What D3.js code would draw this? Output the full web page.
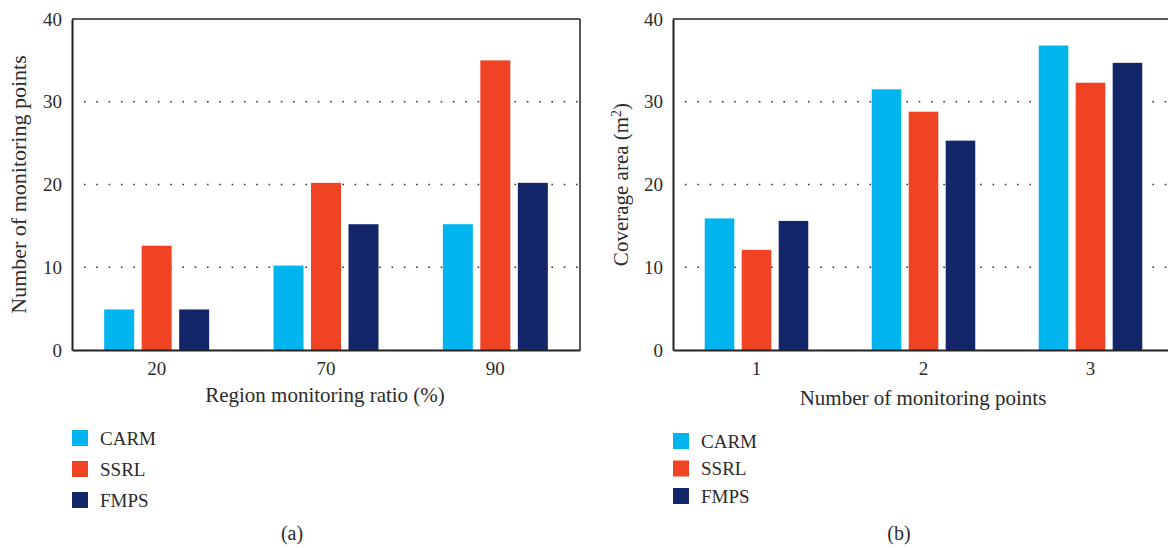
<!DOCTYPE html>
<html lang="en">
<head>
    <meta charset="UTF-8">
    <script src="https://d3js.org/d3.v7.min.js"></script>
    <style>
        body { margin: 0; background: #fff; }
        svg text { font-family: "Liberation Serif", "DejaVu Serif", serif; fill: #2b2b2b; }
        .tick text { font-size: 19px; }
        .title { font-size: 21px; }
        .ytitle { font-size: 22px; }
        .legend { font-size: 19px; }
        .caption { font-size: 20px; }
    </style>
</head>
<body>
    <svg id="chart"></svg>

    <script>
        // series + colours
        const seriesNames = ["CARM", "SSRL", "FMPS"];
        const seriesColors = ["#00b4ee", "#ef4324", "#14266a"];

        // panel (a)
        const ratioCats = ["20", "70", "90"];
        const carmA = [4.9, 10.2, 15.2];
        const ssrlA = [12.6, 20.2, 35];
        const fmpsA = [4.9, 15.2, 20.2];

        // panel (b)
        const pointCats = ["1", "2", "3"];
        const carmB = [15.9, 31.5, 36.8];
        const ssrlB = [12.1, 28.8, 32.3];
        const fmpsB = [15.6, 25.3, 34.7];

        const yTicks = [0, 10, 20, 30, 40];
        const gridTicks = [10, 20, 30];

        const W = 1168, H = 548;
        const svg = d3.select("#chart").attr("width", W).attr("height", H);

        function drawPanel(opt) {
            const g = svg.append("g");
            const top = 19, bottom = 350;

            const x0 = d3.scaleBand()
                .domain(opt.cats)
                .range([opt.left, opt.right])
                .paddingInner(0.38)
                .paddingOuter(0.19);

            const x1 = d3.scaleBand()
                .domain(seriesNames)
                .range([0, x0.bandwidth()])
                .paddingInner(0.2);

            const y = d3.scaleLinear().domain([0, 40]).range([bottom, top]);

            const color = d3.scaleOrdinal().domain(seriesNames).range(seriesColors);

            // dotted grid
            g.selectAll(".grid")
                .data(gridTicks)
                .enter()
                .append("line")
                .attr("x1", opt.left + 12)
                .attr("x2", opt.right)
                .attr("y1", d => y(d))
                .attr("y2", d => y(d))
                .attr("stroke", "#333")
                .attr("stroke-width", 1.6)
                .attr("stroke-dasharray", "1.6,10.7");

            const rows = opt.cats.map((c, i) => ({
                cat: c,
                values: seriesNames.map((s, j) => ({ key: s, value: opt.values[j][i] }))
            }));

            g.selectAll(".group")
                .data(rows)
                .enter()
                .append("g")
                .attr("transform", d => `translate(${x0(d.cat)},0)`)
                .selectAll("rect")
                .data(d => d.values)
                .enter()
                .append("rect")
                .attr("x", d => x1(d.key))
                .attr("y", d => y(d.value))
                .attr("width", x1.bandwidth())
                .attr("height", d => y(0) - y(d.value))
                .attr("fill", d => color(d.key));

            // frame
            g.append("line").attr("x1", opt.left).attr("x2", opt.right)
                .attr("y1", top).attr("y2", top)
                .attr("stroke", "#222").attr("stroke-width", 1.5);
            g.append("line").attr("x1", opt.right).attr("x2", opt.right)
                .attr("y1", top).attr("y2", bottom)
                .attr("stroke", "#222").attr("stroke-width", 1.5);

            const xAxis = g.append("g")
                .attr("transform", `translate(0,${bottom})`)
                .call(d3.axisBottom(x0).tickSize(0).tickPadding(12));
            xAxis.select(".domain").attr("stroke", "#222").attr("stroke-width", 2);

            const yAxis = g.append("g")
                .attr("transform", `translate(${opt.left},0)`)
                .call(d3.axisLeft(y).tickValues(yTicks).tickSize(0).tickPadding(10));
            yAxis.select(".domain").attr("stroke", "#222").attr("stroke-width", 2);

            g.selectAll(".tick text").attr("fill", "#2b2b2b");

            g.append("text")
                .attr("class", "title")
                .attr("x", (opt.left + opt.xTitleCenter))
                .attr("y", opt.xTitleY)
                .attr("text-anchor", "middle")
                .text(opt.xTitle);

            const yt = g.append("text")
                .attr("class", opt.yTitleClass)
                .attr("transform", `translate(${opt.yTitleX},${(top + bottom) / 2}) rotate(-90)`)
                .attr("text-anchor", "middle");
            opt.yTitle(yt);

            const leg = g.selectAll(".legend")
                .data(seriesNames)
                .enter()
                .append("g")
                .attr("transform", (d, i) => `translate(${opt.left},${opt.legY + i * opt.legStep})`);
            leg.append("rect")
                .attr("x", 0).attr("y", -8)
                .attr("width", 16).attr("height", 16)
                .attr("fill", d => color(d));
            leg.append("text")
                .attr("class", "legend")
                .attr("x", 28)
                .attr("dy", "0.35em")
                .text(d => d);

            g.append("text")
                .attr("class", "caption")
                .attr("x", opt.capX)
                .attr("y", 540)
                .attr("text-anchor", "middle")
                .text(opt.caption);
        }

        drawPanel({
            left: 72, right: 580,
            cats: ratioCats,
            values: [carmA, ssrlA, fmpsA],
            xTitle: "Region monitoring ratio (%)",
            xTitleCenter: 253, xTitleY: 402,
            yTitleX: 26, yTitleClass: "ytitle",
            yTitle: t => t.text("Number of monitoring points"),
            legY: 438, legStep: 31,
            capX: 292, caption: "(a)"
        });

        drawPanel({
            left: 673, right: 1174,
            cats: pointCats,
            values: [carmB, ssrlB, fmpsB],
            xTitle: "Number of monitoring points",
            xTitleCenter: 250, xTitleY: 405,
            yTitleX: 628, yTitleClass: "title",
            yTitle: t => {
                t.append("tspan").text("Coverage area (m");
                t.append("tspan").attr("baseline-shift", "super").attr("font-size", "14px").text("2");
                t.append("tspan").text(")");
            },
            legY: 441, legStep: 27.5,
            capX: 899, caption: "(b)"
        });
    </script>
</body>
</html>
